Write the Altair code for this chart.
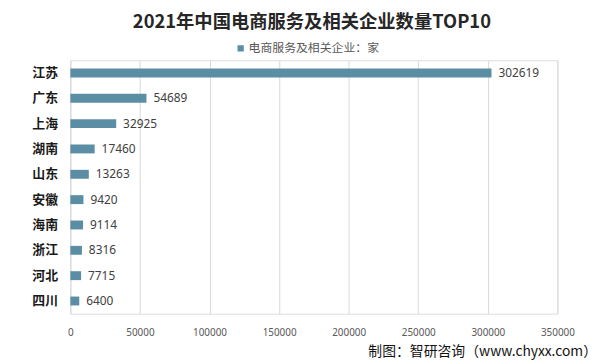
import altair as alt
import pandas as pd

provinces = ["江苏", "广东", "上海", "湖南", "山东", "安徽", "海南", "浙江", "河北", "四川"]
counts = [302619, 54689, 32925, 17460, 13263, 9420, 9114, 8316, 7715, 6400]
series_name = "电商服务及相关企业：家"
x_ticks = [0, 50000, 100000, 150000, 200000, 250000, 300000, 350000]
title_text = "2021年中国电商服务及相关企业数量TOP10"
footer_text = "制图：智研咨询（www.chyxx.com）"

df = pd.DataFrame({"province": provinces, "count": counts, "series": [series_name] * len(provinces)})

FONT = "Noto Sans CJK SC"

y_enc = alt.Y("province:N", sort=provinces, title=None,
              scale=alt.Scale(paddingInner=0.64, paddingOuter=0.32),
              axis=alt.Axis(ticks=False, domain=False, grid=False, labelFont=FONT,
                            labelFontSize=13, labelFontWeight="bold", labelColor="#1a1a1a",
                            labelPadding=13))
x_enc = alt.X("count:Q", title=None, scale=alt.Scale(domain=[0, 350000], nice=False),
              axis=alt.Axis(values=x_ticks, ticks=False, domain=False, grid=True,
                            gridColor="#d9d9d9", labelFont="Noto Sans", labelFontSize=10,
                            labelColor="#595959", labelPadding=14, labelFlush=False,
                            format="d"))

bars = alt.Chart(df).mark_bar(size=9).encode(
    x=x_enc,
    y=y_enc,
    color=alt.Color("series:N", title=None,
                    scale=alt.Scale(range=["#5b8ea5"]),
                    legend=alt.Legend(orient="none", legendX=166, legendY=-18,
                                      symbolType="square", symbolSize=40,
                                      symbolStrokeWidth=0, labelFont=FONT,
                                      labelFontSize=12, labelColor="#595959",
                                      labelOffset=2, padding=0)),
)

labels = alt.Chart(df).mark_text(align="left", baseline="middle", dx=7,
                                 font="Noto Sans", fontSize=12, color="#404040").encode(
    x="count:Q",
    y=alt.Y("province:N", sort=provinces),
    text=alt.Text("count:Q", format="d"),
)

footer = alt.Chart(pd.DataFrame({"t": [footer_text]})).mark_text(
    align="right", baseline="middle", font=FONT, fontSize=14, color="#111111"
).encode(x=alt.value(532), y=alt.value(295), text="t:N")

chart = alt.layer(bars, labels, footer).properties(
    width=492, height=256,
    autosize=alt.AutoSizeParams(type="none"),
    padding={"left": 63, "top": 51, "right": 41, "bottom": 45},
    title=alt.TitleParams(title_text, font=FONT, fontSize=18.5, fontWeight="bold",
                          color="#262626", anchor="middle", dx=-2, offset=11),
).configure_view(stroke=None).configure(background="white")

chart.save("out.html", embed_options={"renderer": "svg", "actions": False})
